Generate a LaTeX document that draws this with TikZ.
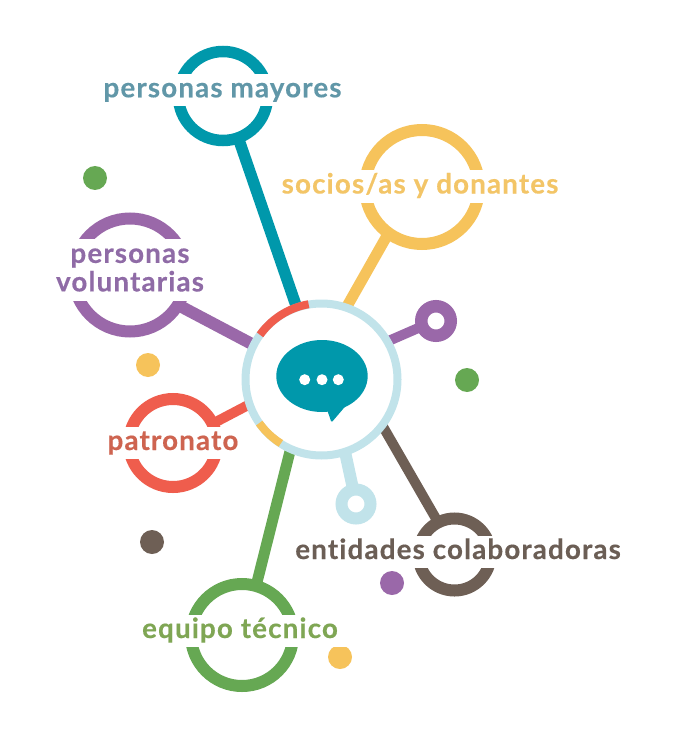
\documentclass[tikz,border=0pt]{standalone}
\usepackage{fontspec}
\newfontfamily\lab[LetterSpace=4.2,Ligatures=NoCommon,BoldFeatures={FakeBold=0.35}]{Lato}
\definecolor{cteal}{HTML}{0098AB}
\definecolor{cyel}{HTML}{F6C35B}
\definecolor{cpur}{HTML}{9A68A9}
\definecolor{cred}{HTML}{EF5D4D}
\definecolor{cbrn}{HTML}{6E5F55}
\definecolor{cgrn}{HTML}{66A853}
\definecolor{clig}{HTML}{C1E3EA}
\definecolor{tteal}{HTML}{6197A8}
\definecolor{tyel}{HTML}{F3C567}
\definecolor{tpur}{HTML}{8F6BA6}
\definecolor{tred}{HTML}{CE6450}
\definecolor{tbrn}{HTML}{6B5E55}
\definecolor{tgrn}{HTML}{7FA654}
\tikzset{
  x=0.75pt,y=-0.75pt,
  ringn/.style n args={3}{circle,draw=#1,fill=white,line width=#3*0.75pt,minimum size=2*#2*0.75pt,inner sep=0pt,outer sep=0pt},
  conn/.style 2 args={draw=#1,line width=#2*0.75pt},
  dotn/.style={circle,fill=#1,minimum size=24*0.75pt,inner sep=0pt,outer sep=0pt},
  lbl/.style={fill=white,text=#1,font=\lab\bfseries\fontsize{20.8pt}{21.4pt}\selectfont,anchor=base,inner ysep=0pt,inner xsep=9pt,text height=17.4pt,text depth=6.8pt,outer sep=0pt},
}
\begin{document}
\begin{tikzpicture}
\useasboundingbox (0,0) rectangle (676,734);
% rings
\node[ringn={cteal}{44.5}{11.5}] (mayores) at (223,96) {};
\node[ringn={cyel}{57}{12}] (socios) at (422,187) {};
\node[ringn={cpur}{56.5}{12}] (volunt) at (130,275) {};
\node[ringn={cred}{44}{12}] (patron) at (173,443) {};
\node[ringn={cbrn}{36}{12}] (entid) at (454.5,554.5) {};
\node[ringn={cgrn}{51}{12}] (equipo) at (242,635) {};
\node[ringn={cpur}{14.75}{12.5}] (smallp) at (436,321) {};
\node[ringn={clig}{14.5}{12}] (smalll) at (356,504) {};
% hub
\coordinate (hc) at (321.5,379.5);
\node[circle,minimum size=152*0.75pt,inner sep=0pt,outer sep=0pt] (hub) at (hc) {};
% connectors
\draw[conn={cteal}{11.5}] (mayores.-70.8) -- (hub.109.3);
\draw[conn={cyel}{11}] (socios.234.7) -- (hub.71.6);
\draw[conn={cpur}{10}] (smallp.201) -- (hub.30);
\draw[conn={cbrn}{10}] (entid.117.9) -- (hub.-37);
\draw[conn={clig}{12}] (smalll.101) -- (hub.-72.3);
\draw[conn={cgrn}{11}] (equipo.74.8) -- (hub.246.8);
\draw[conn={cred}{10}] (patron.26.6) -- (hub.199);
\draw[conn={cpur}{12}] (volunt.-32.6) -- (hub.153);
% hub ring on top of connector ends
\fill[white] (hc) circle[radius=76];
\draw[clig,line width=8*0.75pt] (hc) circle[radius=76];
\draw[cred,line width=8*0.75pt] (hub.144.4) arc[start angle=144.4,end angle=100,radius=76*0.75pt];
\draw[cyel,line width=8*0.75pt] (hub.215.5) arc[start angle=215.5,end angle=238,radius=76*0.75pt];
% bubble
\fill[cteal] (322,376) ellipse[x radius=45.7,y radius=36];
\fill[cteal,rounded corners=1pt] (326.5,408) -- (331.5,422.5) -- (349,402) -- cycle;
\foreach \n/\xx in {a/304.7,b/322,c/338.3}{\node[circle,fill=white,minimum size=11*0.75pt,inner sep=0pt] (dot\n) at (\xx,379.7) {};}
% dots
\node[dotn=cgrn] (d1) at (95,178) {};
\node[dotn=cyel] (d2) at (148,365) {};
\node[dotn=cgrn] (d3) at (467,380) {};
\node[dotn=cbrn] (d4) at (152,542) {};
\node[dotn=cpur] (d5) at (392,583) {};
\node[dotn=cyel] (d6) at (340,657) {};
% labels
\node[lbl=tteal] (tmay) at (222.5,97.3) {personas mayores};
\node[lbl=tyel] (tsoc) at (420,193.5) {socios/as y donantes};
\node[lbl=tred] (tpat) at (173,450) {patronato};
\node[lbl=tbrn] (tent) at (458,559) {entidades colaboradoras};
\node[lbl=tgrn] (tequ) at (240,638) {equipo técnico};
\node[fill=white,text=tpur,font=\lab\bfseries\fontsize{20.8pt}{21.4pt}\selectfont,align=center,inner sep=0pt,minimum height=62*0.75pt,minimum width=150*0.75pt] (tvol) at (130,270) {personas\\voluntarias};
\end{tikzpicture}
\end{document}
